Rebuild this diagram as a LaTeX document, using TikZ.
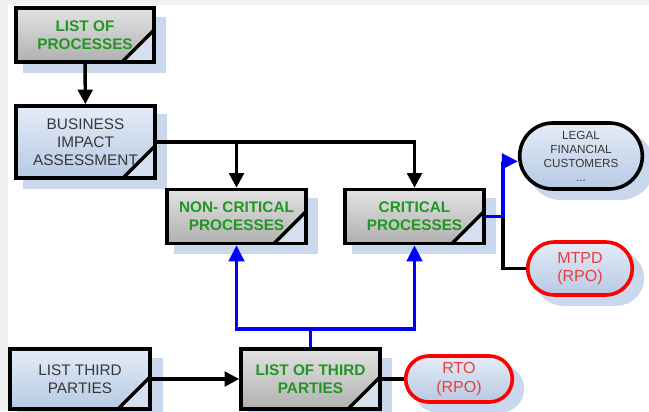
\documentclass[tikz,border=0pt]{standalone}
\usepackage{fontspec}
\setmainfont{Liberation Sans}
\usetikzlibrary{arrows.meta,shapes.misc,shadows}

\definecolor{procgreen}{RGB}{34,150,34}
\definecolor{boxblue1}{RGB}{228,236,247}
\definecolor{boxblue2}{RGB}{182,201,228}
\definecolor{boxgray1}{RGB}{226,226,226}
\definecolor{boxgray2}{RGB}{176,176,176}
\definecolor{shadowblue}{RGB}{196,212,236}
\definecolor{cornerfill}{RGB}{214,223,238}
\definecolor{labelgray}{RGB}{55,55,55}
\definecolor{alertred}{RGB}{255,0,0}
\definecolor{alerttext}{RGB}{235,60,60}
\definecolor{linkblue}{RGB}{0,0,255}
\definecolor{pagegray}{RGB}{240,240,240}

\tikzset{every picture/.style={line width=0.75pt}}
\tikzset{
  shade box/.style={drop shadow={shadow xshift=7pt,shadow yshift=-7pt,shadow scale=1.04,fill=shadowblue,opacity=0.9}},
  procbox/.style={draw,line width=2.7pt,rectangle,inner sep=2pt,align=center,
    font=\fontsize{11.5}{13.5}\selectfont,text=labelgray,shade box,
    path picture={
      \fill[cornerfill] (path picture bounding box.south east) ++(-24pt,0pt) -- ++(24pt,0pt) -- ++(0pt,24pt) -- cycle;
      \draw[line width=2.5pt] (path picture bounding box.south east) ++(-24pt,0pt) -- ++(24pt,24pt);}},
  graybox/.style={procbox,top color=boxgray1,bottom color=boxgray2,text=procgreen,
    font=\fontsize{11.5}{13.5}\selectfont\bfseries},
  bluebox/.style={procbox,top color=boxblue1,bottom color=boxblue2},
  pill/.style={rounded rectangle,draw,line width=2.7pt,align=center,inner sep=2pt,
    top color=boxblue1,bottom color=boxblue2,shade box,text=labelgray},
  alertpill/.style={pill,draw=alertred,text=alerttext,font=\fontsize{12}{14}\selectfont},
  flow/.style={line width=2.6pt,-{Triangle[length=11pt,width=11pt]}},
  bflow/.style={line width=2.6pt,draw=linkblue,-{Triangle[length=12pt,width=11.5pt]}},
  tie/.style={line width=2.6pt},
}

\begin{document}
\begin{tikzpicture}[x=0.75pt,y=0.75pt,yscale=-1,xscale=1]
	%Shape: Background
	\fill[pagegray] (0,0) rectangle (649,411);
	\fill[white] (8,5) rectangle (649,411);
	\useasboundingbox (0,0) rectangle (649,411);

	%Shape: Process boxes
	\node[graybox,minimum width=103.5pt,minimum height=40.5pt] (lop) at (85,35) {LIST OF\\PROCESSES};
	\node[bluebox,minimum width=104.25pt,minimum height=54pt] (bia) at (85.5,142) {BUSINESS\\IMPACT\\ASSESSMENT};
	\node[graybox,minimum width=104.25pt,minimum height=40.5pt] (ncp) at (236.5,216.5) {NON- CRITICAL\\PROCESSES};
	\node[graybox,minimum width=104.25pt,minimum height=40.5pt] (cp) at (414.5,216.5) {CRITICAL\\PROCESSES};
	\node[bluebox,minimum width=105pt,minimum height=45pt] (ltp) at (80,379) {LIST THIRD\\PARTIES};
	\node[graybox,minimum width=104.25pt,minimum height=45pt] (lotp) at (310.5,379) {LIST OF THIRD\\PARTIES};

	%Shape: Terminals
	\node[pill,minimum width=96pt,minimum height=49.5pt,font=\fontsize{8.8}{10.5}\selectfont] (legal) at (581,156) {LEGAL\\FINANCIAL\\CUSTOMERS\\...};
	\node[alertpill,minimum width=82.5pt,minimum height=39.75pt] (mtpd) at (580,268.5) {MTPD\\(RPO)};
	\node[alertpill,minimum width=84pt,minimum height=34.5pt] (rto) at (459,379) {RTO\\(RPO)};

	%Straight Lines
	\draw[flow] (lop) -- (bia);
	\draw[flow] (bia.east) -| (ncp.north);
	\draw[flow] (bia.east) -| (cp.north);
	\draw[flow] (ltp) -- (lotp);
	\draw[tie] (lotp) -- (rto);

	%Straight Lines
	\coordinate (split) at (503,216.5);
	\draw[tie] (split) |- (mtpd.west);
	\draw[bflow] (cp.east) -- (split) |- ([yshift=4pt]legal.west);

	%Straight Lines
	\coordinate (fork) at (310.5,329);
	\draw[bflow] (lotp.north) -- (fork) -| (ncp.south);
	\draw[bflow] (fork) -| (cp.south);

\end{tikzpicture}
\end{document}
